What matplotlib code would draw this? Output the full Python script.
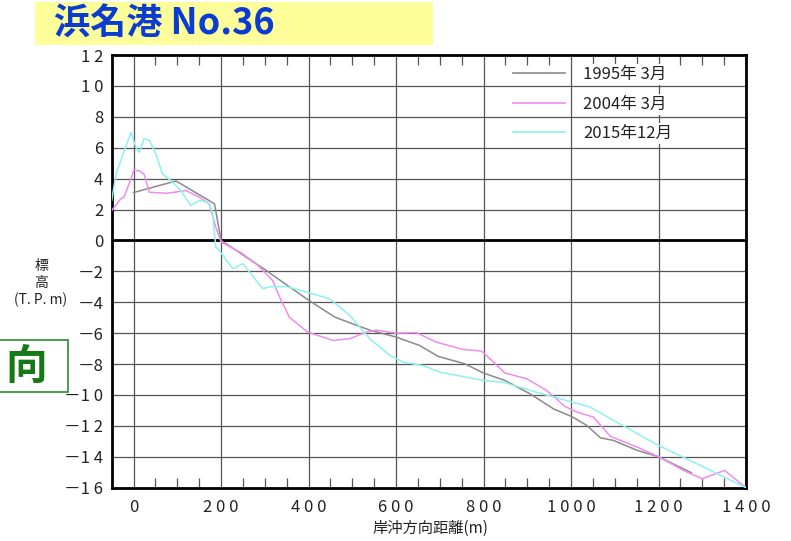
import matplotlib
matplotlib.use('Agg')
import matplotlib.pyplot as plt
from matplotlib.patches import Rectangle
from matplotlib.ticker import MultipleLocator, FixedLocator

plt.rcParams['font.family'] = ['Noto Sans CJK JP', 'DejaVu Sans']

# 1995年 3月 profile
x_1995 = [0, 97, 185, 200, 246, 303, 356, 402, 460, 501, 540, 600, 654, 696, 757,
          800, 849, 906, 960, 1002, 1036, 1067, 1097, 1151, 1200, 1275]
y_1995 = [3.1, 3.85, 2.37, 0.0, -0.86, -1.94, -3.0, -3.9, -4.96, -5.4, -5.8, -6.25, -6.8,
          -7.5, -7.98, -8.58, -9.06, -9.92, -10.9, -11.4, -11.97, -12.77, -12.94, -13.58,
          -14.0, -15.03]

# 2004年 3月 profile
x_2004 = [-50, -29, -22, -10, 1, 13, 24, 36, 76, 120, 150, 173, 188, 200, 246, 280, 318,
          334, 356, 398, 456, 494, 532, 555, 600, 647, 692, 753, 796, 849, 899, 944, 986,
          1013, 1051, 1090, 1151, 1200, 1257, 1300, 1351, 1400]
y_2004 = [1.94, 2.7, 2.8, 3.67, 4.57, 4.5, 4.3, 3.12, 3.05, 3.23, 2.8, 2.37, 0.86, -0.1,
          -0.8, -1.5, -2.59, -3.67, -4.96, -5.93, -6.47, -6.36, -5.93, -5.8, -6.0, -5.97,
          -6.58, -7.05, -7.16, -8.58, -8.95, -9.7, -10.74, -11.1, -11.43, -12.68, -13.37,
          -14.0, -14.88, -15.42, -14.88, -16.0]

# 2015年12月 profile
x_2015 = [-50, -40, -18, -6, 5, 13, 24, 36, 51, 66, 85, 108, 131, 150, 169, 180, 188, 196,
          227, 250, 295, 312, 349, 395, 448, 494, 540, 586, 616, 662, 700, 800, 849, 906,
          960, 1044, 1097, 1200, 1303, 1400]
y_2015 = [2.59, 4.3, 6.04, 7.0, 6.04, 5.7, 6.58, 6.47, 5.6, 4.3, 3.88, 3.23, 2.26, 2.59,
          2.48, 1.9, -0.43, -0.65, -1.83, -1.5, -3.12, -3.0, -2.98, -3.34, -3.77, -4.85,
          -6.36, -7.44, -7.87, -8.1, -8.52, -9.06, -9.2, -9.7, -10.13, -10.78, -11.64,
          -13.26, -14.66, -16.0]

series_labels = ['1995年 3月', '2004年 3月', '2015年12月']
series_colors = ['#8a8a8a', '#f08cf0', '#8ef0f0']

x_ticks = [0, 200, 400, 600, 800, 1000, 1200, 1400]
x_tick_labels = ['0', '2 0 0', '4 0 0', '6 0 0', '8 0 0', '1 0 0 0', '1 2 0 0', '1 4 0 0']
y_ticks = [12, 10, 8, 6, 4, 2, 0, -2, -4, -6, -8, -10, -12, -14, -16]
y_tick_labels = ['1 2', '1 0', '8', '6', '4', '2', '0', '－2', '－4', '－6', '－8',
                 '－1 0', '－1 2', '－1 4', '－1 6']

W, H = 791, 541
fig = plt.figure(figsize=(W / 100, H / 100), dpi=100)
fig.patch.set_facecolor('white')

def fx(px):
    return px / W

def fy(py):
    return 1 - py / H

ax = fig.add_axes([fx(111.7), fy(487.7), fx(746) - fx(111.7), fy(55) - fy(487.7)])

for xs, ys, lab, col in zip([x_1995, x_2004, x_2015], [y_1995, y_2004, y_2015],
                            series_labels, series_colors):
    ax.plot(xs, ys, color=col, linewidth=1.1, label=lab, zorder=3)

ax.set_xlim(-50, 1400)
ax.set_ylim(-16, 12)

ax.xaxis.set_major_locator(FixedLocator(x_ticks))
ax.set_xticklabels(x_tick_labels)
ax.xaxis.set_minor_locator(MultipleLocator(50))
ax.yaxis.set_major_locator(FixedLocator(y_ticks))
ax.set_yticklabels(y_tick_labels)

ax.grid(True, which='major', color='#555555', linewidth=0.9)
ax.axhline(0, color='black', linewidth=2.0, zorder=2)
ax.tick_params(axis='x', which='major', length=0, labelsize=12, pad=8)
ax.tick_params(axis='x', which='minor', direction='in', length=7, width=0.9,
               top=True, bottom=True, color='#555555')
ax.tick_params(axis='y', which='major', length=0, labelsize=12, pad=6)
for lbl in ax.get_xticklabels() + ax.get_yticklabels():
    lbl.set_color('#222222')
for sp in ax.spines.values():
    sp.set_linewidth(2.0)
    sp.set_color('black')

leg = ax.legend(loc='upper left', bbox_to_anchor=((513 - 111.7) / 634.3, (487.7 - 66) / 433),
                frameon=False, fontsize=12, handlelength=3.1, handletextpad=1.1,
                labelspacing=0.75, borderpad=0, borderaxespad=0)
for t in leg.get_texts():
    t.set_color('#222222')
    t.set_bbox(dict(facecolor='white', edgecolor='none', pad=1.5))
for ln in leg.get_lines():
    ln.set_linewidth(1.2)

# axis labels
fig.text(fx(41), fy(266), '標', ha='center', va='center', fontsize=10, color='#222222')
fig.text(fx(41), fy(283), '高', ha='center', va='center', fontsize=10, color='#222222')
fig.text(fx(41), fy(300), '(T. P. m)', ha='center', va='center', fontsize=10, color='#222222')
fig.text(fx(430), fy(528), '岸沖方向距離(m)', ha='center', va='center', fontsize=11,
         color='#222222')

# title box
fig.patches.append(Rectangle((fx(35), fy(45)), fx(433) - fx(35), fy(2) - fy(45),
                             transform=fig.transFigure, facecolor='#fdfd9a',
                             edgecolor='none', zorder=0))
fig.text(fx(54), fy(24), '浜名港 No.36', ha='left', va='center', fontsize=26,
         fontweight='bold', color='#0a3cd2')

# green box on the left
fig.patches.append(Rectangle((fx(-5), fy(392)), fx(68) - fx(-5), fy(340) - fy(392),
                             transform=fig.transFigure, facecolor='white',
                             edgecolor='#2e8b2e', linewidth=1.2, zorder=4))
fig.text(fx(47), fy(367), '向', ha='right', va='center', fontsize=30,
         fontweight='bold', color='#157a15', zorder=5)

fig.savefig('out.png', dpi=100)
